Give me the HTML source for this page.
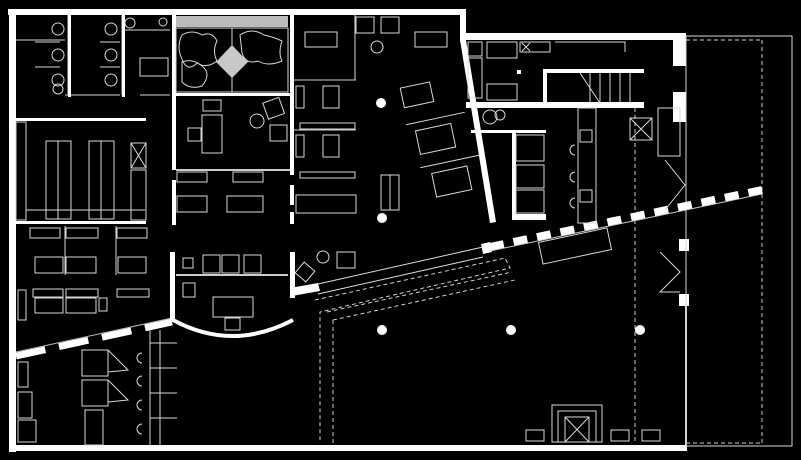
<!DOCTYPE html>
<html><head><meta charset="utf-8"><style>
html,body{margin:0;padding:0;background:#000;width:801px;height:460px;overflow:hidden}
svg{display:block}
.f{fill:none;stroke:#d8d8d8;stroke-width:1}
.d{fill:none;stroke:#cfcfcf;stroke-width:1;stroke-dasharray:4 3}
.w{fill:#fff}
</style></head><body>
<svg width="801" height="460" viewBox="0 0 801 460" xmlns="http://www.w3.org/2000/svg">
<rect width="801" height="460" fill="#000"/>
<!-- outer walls -->
<rect class="w" x="8" y="9" width="458" height="6"/>
<rect class="w" x="9" y="9" width="7" height="443"/>
<rect class="w" x="9" y="445" width="678" height="6"/>
<rect class="w" x="460" y="9" width="6" height="33"/>
<rect class="w" x="460" y="33" width="226" height="7"/>
<rect class="w" x="673" y="33" width="13" height="33"/>
<rect class="w" x="673" y="92" width="13" height="30"/>
<rect class="w" x="679" y="239" width="10" height="12"/>
<rect class="w" x="679" y="294" width="10" height="12"/>
<line x1="686" y1="306" x2="686" y2="445" stroke="#ccc" stroke-width="2"/>
<!-- right annex -->
<rect class="f" x="686" y="36" width="106" height="410"/>
<line class="d" x1="762" y1="40" x2="762" y2="443"/>
<line class="d" x1="686" y1="40" x2="762" y2="40"/>
<line class="d" x1="686" y1="443" x2="762" y2="443"/>
<line class="d" x1="635" y1="108" x2="635" y2="442"/>
<!-- diagonal wall upper -->
<polygon class="w" points="460,40 466,40 496,222 490,223"/>
<!-- big diagonal -->
<polygon class="w" points="481,244 490,242 492,252 483,254"/>
<g stroke="#fff" stroke-width="8" stroke-dasharray="14 10">
<line x1="490" y1="247" x2="762" y2="190"/>
</g>
<line x1="490" y1="251" x2="762" y2="194" stroke="#ccc"/>
<polygon class="w" points="290,288 318,283 320,291 292,296"/>
<line x1="318" y1="284" x2="483" y2="247" stroke="#ddd"/>
<line x1="318" y1="294" x2="483" y2="257" stroke="#ddd"/>
<path class="d" d="M315,300 L505,258 L510,268 L320,312 L320,443"/>
<path class="d" d="M327,312 L512,272 M333,320 L515,280 M333,320 L333,443"/>
<!-- left diagonal -->
<g stroke="#fff" stroke-width="7" stroke-dasharray="30 14">
<line x1="16" y1="356" x2="172" y2="322"/>
</g>
<line x1="16" y1="352" x2="172" y2="318" stroke="#bbb"/>
<!-- curved room -->
<rect class="w" x="170" y="252" width="5" height="70"/>
<rect class="w" x="290" y="252" width="5" height="46"/>
<path d="M173,320 Q232,352 293,320" fill="none" stroke="#fff" stroke-width="4"/>
<line x1="176" y1="275" x2="288" y2="275" stroke="#ccc" stroke-width="2"/>
<rect class="f" x="213" y="297" width="40" height="20"/><rect class="f" x="225" y="318" width="15" height="12"/>
<rect class="f" x="183" y="283" width="12" height="14"/>
<rect class="f" x="203" y="255" width="17" height="18"/><rect class="f" x="222" y="255" width="17" height="18"/><rect class="f" x="244" y="255" width="17" height="18"/>
<rect class="f" x="183" y="258" width="10" height="10"/>
<!-- interior walls -->
<rect class="w" x="172" y="15" width="4" height="155"/>
<rect class="w" x="172" y="180" width="4" height="45"/>
<rect class="w" x="290" y="15" width="4" height="160"/>
<rect class="w" x="290" y="185" width="4" height="20"/>
<rect class="w" x="290" y="212" width="4" height="12"/>
<rect x="176" y="16" width="112" height="11" fill="#bbb"/>
<rect class="f" x="176" y="28" width="112" height="64"/>
<line class="f" x1="232" y1="28" x2="232" y2="92"/>
<polygon points="232,45 248,62 232,78 216,62" fill="#c8c8c8"/>
<path class="f" d="M182,35 q10,-6 20,0 q10,-4 15,6 q-5,10 0,20 q-10,8 -20,2 q-10,10 -15,-4 q-6,-12 0,-24z"/>
<path class="f" d="M240,35 q12,-8 24,0 q10,2 18,6 q-4,12 0,20 q-14,6 -24,0 q-12,4 -16,-8z"/>
<path class="f" d="M182,62 q10,-4 20,4 q10,8 0,20 q-12,4 -20,-4z"/>
<rect class="w" x="172" y="93" width="120" height="3"/>
<rect class="f" x="202" y="115" width="20" height="38"/><rect class="f" x="203" y="100" width="18" height="11"/>
<circle class="f" cx="257" cy="121" r="7"/>
<rect class="f" x="265" y="100" width="17" height="17" transform="rotate(-20 273 108)"/>
<rect class="f" x="270" y="125" width="17" height="16"/>
<rect class="f" x="188" y="128" width="13" height="13"/>
<line x1="176" y1="170" x2="290" y2="170" stroke="#ccc" stroke-width="2"/>
<rect class="f" x="177" y="196" width="30" height="16"/><rect class="f" x="227" y="196" width="36" height="16"/>
<rect class="f" x="177" y="172" width="30" height="10"/><rect class="f" x="233" y="172" width="30" height="10"/>
<!-- left toilets -->
<path class="f" d="M16,40 L65,40 M68,15 L68,95 M65,95 L120,95 M35,42 L60,42 M35,67 L60,67 M100,42 L120,42 M100,67 L120,67 M122,15 L122,95 M122,30 L170,30 M140,95 L170,95"/>
<rect class="w" x="68" y="15" width="3" height="82"/>
<rect class="w" x="122" y="15" width="3" height="82"/>
<circle class="f" cx="58" cy="29" r="6"/><circle class="f" cx="58" cy="55" r="6"/><circle class="f" cx="58" cy="80" r="6"/><circle class="f" cx="58" cy="89" r="5"/>
<circle class="f" cx="111" cy="29" r="6"/><circle class="f" cx="111" cy="55" r="6"/><circle class="f" cx="111" cy="80" r="6"/>
<circle class="f" cx="130" cy="23" r="5"/><circle class="f" cx="163" cy="22" r="4"/>
<rect class="f" x="140" y="58" width="28" height="18"/>
<rect class="w" x="16" y="118" width="130" height="3"/>
<rect class="w" x="16" y="221" width="130" height="3"/>
<rect class="f" x="16" y="122" width="10" height="98"/>
<rect class="f" x="46" y="141" width="25" height="78"/><line class="f" x1="58" y1="141" x2="58" y2="219"/>
<rect class="f" x="89" y="141" width="25" height="78"/><line class="f" x1="101" y1="141" x2="101" y2="219"/>
<line class="f" x1="26" y1="210" x2="145" y2="210"/>
<rect class="f" x="131" y="143" width="15" height="25"/><line class="f" x1="131" y1="143" x2="146" y2="168"/><line class="f" x1="146" y1="143" x2="131" y2="168"/>
<rect class="f" x="131" y="170" width="15" height="50"/>
<!-- left open office -->
<rect class="f" x="30" y="228" width="30" height="10"/><rect class="f" x="66" y="228" width="32" height="10"/><rect class="f" x="117" y="228" width="30" height="10"/>
<rect class="f" x="35" y="257" width="28" height="16"/><rect class="f" x="66" y="257" width="30" height="16"/><rect class="f" x="118" y="257" width="28" height="16"/>
<rect class="f" x="33" y="289" width="30" height="8"/><rect class="f" x="66" y="289" width="32" height="8"/><rect class="f" x="117" y="289" width="32" height="8"/>
<rect class="f" x="35" y="298" width="28" height="15"/><rect class="f" x="66" y="298" width="30" height="15"/><rect class="f" x="99" y="298" width="8" height="13"/>
<rect class="f" x="18" y="290" width="8" height="30"/>
<line class="f" x1="65" y1="226" x2="65" y2="275"/><line class="f" x1="116" y1="226" x2="116" y2="275"/>
<!-- bottom-left rooms -->
<rect class="f" x="82" y="350" width="26" height="26"/><rect class="f" x="82" y="380" width="26" height="26"/>
<path class="f" d="M108,350 L128,370 L108,372 M108,380 L128,400 L108,402"/>
<line class="f" x1="150" y1="330" x2="150" y2="445"/><line class="f" x1="160" y1="330" x2="160" y2="445"/>
<line class="f" x1="150" y1="343" x2="177" y2="343"/><line class="f" x1="150" y1="368" x2="177" y2="368"/><line class="f" x1="150" y1="393" x2="177" y2="393"/><line class="f" x1="150" y1="418" x2="177" y2="418"/>
<rect class="f" x="18" y="362" width="10" height="25"/><rect class="f" x="18" y="392" width="14" height="26"/><rect class="f" x="18" y="420" width="18" height="22"/>
<rect class="f" x="85" y="410" width="18" height="35"/>
<path class="f" d="M142,353 a5,5 0 0 0 0,10 M142,376 a5,5 0 0 0 0,10 M142,400 a5,5 0 0 0 0,10 M142,424 a5,5 0 0 0 0,10"/>
<!-- centre offices -->
<rect class="f" x="305" y="32" width="32" height="15"/><rect class="f" x="415" y="32" width="32" height="15"/>
<rect class="f" x="356" y="17" width="18" height="16"/><rect class="f" x="381" y="17" width="18" height="16"/>
<circle class="f" cx="377" cy="47" r="6"/>
<line class="f" x1="355" y1="15" x2="355" y2="80"/>
<rect class="f" x="323" y="86" width="16" height="22"/><rect class="f" x="323" y="135" width="16" height="22"/>
<rect class="f" x="296" y="86" width="8" height="22"/><rect class="f" x="296" y="135" width="8" height="22"/>
<line x1="294" y1="80" x2="356" y2="80" stroke="#ccc"/><line x1="294" y1="130" x2="356" y2="130" stroke="#ccc"/>
<rect class="f" x="300" y="123" width="55" height="6"/><rect class="f" x="300" y="172" width="55" height="6"/>
<rect class="f" x="296" y="195" width="60" height="18"/>
<path class="f" d="M381,175 h18 v35 h-18z M390,175 v35"/>
<rect class="f" x="337" y="252" width="18" height="16"/><circle class="f" cx="323" cy="257" r="6"/>
<rect class="f" x="298" y="265" width="14" height="14" transform="rotate(40 305 272)"/>
<g transform="rotate(-12 445 140)">
<rect class="f" x="412" y="80" width="30" height="20"/><rect class="f" x="418" y="125" width="36" height="24"/><rect class="f" x="425" y="170" width="36" height="24"/>
<line class="f" x1="410" y1="117" x2="470" y2="117"/><line class="f" x1="415" y1="162" x2="475" y2="162"/>
</g>
<!-- right core -->
<rect class="w" x="543" y="69" width="101" height="4"/>
<rect class="w" x="543" y="69" width="4" height="38"/>
<rect class="w" x="466" y="102" width="178" height="6"/>
<path class="f" d="M580,73 L600,103 M590,73 v30 M600,73 v30 M610,73 v30 M620,73 v30 M630,73 v30"/>
<rect class="f" x="468" y="42" width="14" height="14"/><rect class="f" x="487" y="42" width="30" height="16"/>
<path class="f" d="M520,42 h30 v10 h-30z M522,43 L530,51 M530,43 L522,51 M555,42 h70 v10"/>
<rect class="f" x="468" y="58" width="14" height="40"/><rect class="f" x="487" y="84" width="30" height="16"/>
<rect x="517" y="70" width="4" height="4" fill="#fff"/>
<rect class="w" x="471" y="130" width="75" height="3"/>
<rect class="w" x="512" y="133" width="4" height="85"/>
<rect class="f" x="516" y="135" width="28" height="26"/><rect class="f" x="516" y="165" width="28" height="23"/><rect class="f" x="516" y="190" width="28" height="23"/>
<rect class="w" x="512" y="214" width="34" height="6"/>
<rect class="f" x="578" y="108" width="18" height="115"/>
<rect class="f" x="580" y="130" width="12" height="12"/><rect class="f" x="580" y="190" width="12" height="12"/>
<path class="f" d="M575,145 a5,5 0 0 0 0,10 M575,172 a5,5 0 0 0 0,10 M575,198 a5,5 0 0 0 0,10"/>
<rect class="f" x="630" y="118" width="22" height="22"/><path class="f" d="M630,118 l22,22 M652,118 l-22,22"/>
<path class="f" d="M658,108 h22 v48 h-22z M665,160 L685,185 L665,210"/>
<path class="f" d="M660,252 L680,272 L660,292 h20"/>
<circle class="f" cx="490" cy="117" r="7"/><circle class="f" cx="500" cy="115" r="5"/>
<!-- elevator & benches -->
<rect class="f" x="552" y="405" width="50" height="37"/><rect class="f" x="558" y="411" width="38" height="31"/>
<rect class="f" x="565" y="417" width="24" height="25"/><path class="f" d="M565,417 l24,25 M589,417 l-24,25"/>
<rect class="f" x="526" y="430" width="18" height="11"/><rect class="f" x="611" y="430" width="18" height="11"/><rect class="f" x="642" y="430" width="18" height="11"/>
<rect class="f" x="540" y="235" width="70" height="22" transform="rotate(-12 575 246)"/>
<!-- columns -->
<g fill="#fff"><circle cx="381" cy="103" r="5"/><circle cx="382" cy="218" r="5"/><circle cx="382" cy="330" r="5"/><circle cx="511" cy="330" r="5"/><circle cx="640" cy="330" r="5"/></g>
</svg>
</body></html>
